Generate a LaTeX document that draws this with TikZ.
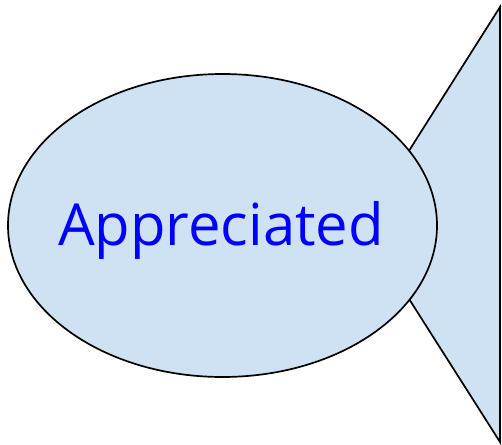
\documentclass[tikz,border=0pt]{standalone}
\usepackage{fontspec}
\setmainfont{Open Sans}
\usetikzlibrary{positioning,shapes.geometric}
\definecolor{BubbleBlue}{RGB}{207,226,243}
\definecolor{WordBlue}{RGB}{0,0,255}

\begin{document}
\begin{tikzpicture}[x=1pt,y=-1pt,line width=1.7pt,every node/.style={font=\fontsize{58}{70}\selectfont}]
\useasboundingbox (0,0) rectangle (502,444);
% the wedge behind the bubble
\coordinate (tip) at (500,7);
\coordinate (foot) at (500,442);
\coordinate (root) at (362,225);
\filldraw[fill=BubbleBlue,draw=black] (root) -- (tip) -- (foot) -- cycle;
\node[ellipse,draw=black,fill=BubbleBlue,minimum width=429pt,minimum height=303pt,inner sep=0pt] (bubble) at (222.5,225.5) {};
\node[text=WordBlue,anchor=base,inner sep=0pt] (word) at (221,245) {Appreciated};
\end{tikzpicture}
\end{document}
